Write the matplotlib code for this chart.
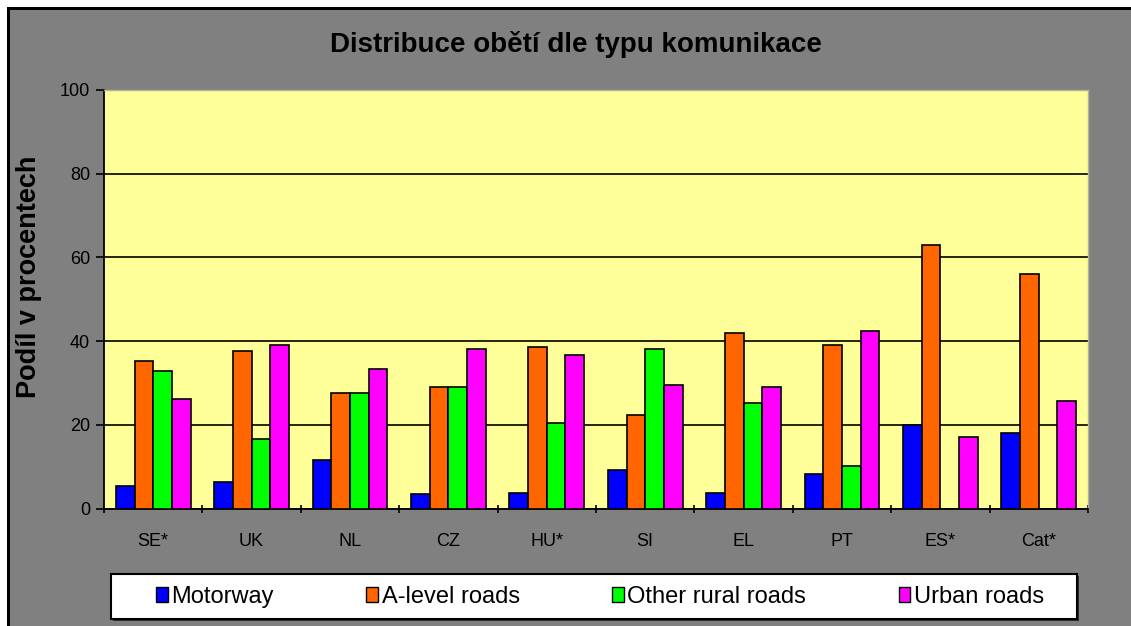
import matplotlib
matplotlib.use("Agg")
import matplotlib.pyplot as plt
import numpy as np
from matplotlib.patches import Rectangle

plt.rcParams['font.family'] = ['Liberation Sans', 'DejaVu Sans']

categories = ["SE*", "UK", "NL", "CZ", "HU*", "SI", "EL", "PT", "ES*", "Cat*"]
motorway = [5.4, 6.3, 11.5, 3.4, 3.8, 9.1, 3.8, 8.2, 20.0, 18.1]
a_level = [35.3, 37.7, 27.6, 29.0, 38.7, 22.4, 41.9, 39.1, 63.0, 56.0]
other_rural = [32.9, 16.7, 27.6, 29.0, 20.4, 38.1, 25.2, 10.1, 0.0, 0.0]
urban = [26.2, 39.1, 33.3, 38.1, 36.7, 29.6, 29.0, 42.4, 17.2, 25.8]
series_names = ["Motorway", "A-level roads", "Other rural roads", "Urban roads"]
series_colors = ["#0000FF", "#FF6600", "#00FF00", "#FF00FF"]
yticks = [0, 20, 40, 60, 80, 100]

W, H = 1131, 626
fig = plt.figure(figsize=(W / 100, H / 100), dpi=100)
fig.patch.set_facecolor("#808080")


def px_rect(x0, y0, x1, y1, **kw):
    """rectangle in pixel coords (y from top)"""
    fig.add_artist(Rectangle((x0 / W, 1 - y1 / H), (x1 - x0) / W, (y1 - y0) / H,
                             transform=fig.transFigure, **kw))


# white strip + black frame lines (top and left)
px_rect(0, 0, W, 7, facecolor="white", edgecolor="none", zorder=0)
px_rect(0, 0, 7, H, facecolor="white", edgecolor="none", zorder=0)
px_rect(7, 7, W, 10, facecolor="black", edgecolor="none", zorder=0)
px_rect(7, 7, 10, H, facecolor="black", edgecolor="none", zorder=0)

ax = fig.add_axes([104 / W, (H - 508.5) / H, 984 / W, 418.5 / H])
ax.set_facecolor("#FFFF99")

n = len(categories)
x = np.arange(n)
bw = 0.19
data = [motorway, a_level, other_rural, urban]
for i, (vals, c, name) in enumerate(zip(data, series_colors, series_names)):
    offs = (i - 1.5) * bw
    ax.bar(x + offs, vals, width=bw, color=c, edgecolor="black", linewidth=1.2,
           label=name, zorder=3)

ax.set_xlim(-0.5, n - 0.5)
ax.set_ylim(0, 100)
ax.set_yticks(yticks)
ax.set_yticklabels([str(v) for v in yticks], fontsize=13)
ax.yaxis.grid(True, color="black", linewidth=1.2, zorder=1)
ax.set_axisbelow(True)

ax.set_xticks(x)
ax.set_xticklabels(categories, fontsize=13)
ax.set_xticks(np.arange(-0.5, n, 1.0), minor=True)
ax.tick_params(axis="x", which="major", length=0, pad=18)
ax.tick_params(axis="x", which="minor", length=6, width=1.2, direction="inout")
ax.tick_params(axis="y", length=6, width=1.2, direction="out", pad=4)

for s in ["top", "right"]:
    ax.spines[s].set_color("#B0B0A0")
    ax.spines[s].set_linewidth(1)
for s in ["left", "bottom"]:
    ax.spines[s].set_color("black")
    ax.spines[s].set_linewidth(1.3)

fig.text(576 / W, 1 - 45 / H, "Distribuce obětí dle typu komunikace",
         ha="center", va="center", fontsize=20, fontweight="bold")
fig.text(29 / W, 1 - 277 / H, "Podíl v procentech", ha="center", va="center",
         rotation=90, fontsize=19.5, fontweight="bold")

# legend frame (with slight dark shadow)
px_rect(113, 576, 1079, 621, facecolor="#303030", edgecolor="none", zorder=4)
px_rect(111, 574, 1077, 619, facecolor="white", edgecolor="black",
        linewidth=1.5, zorder=5)

handles = [Rectangle((0, 0), 1, 1, facecolor=c, edgecolor="black", linewidth=1)
           for c in series_colors]
leg = fig.legend(handles, series_names, loc="center left",
                 bbox_to_anchor=(156 / W, 1 - 597 / H, 888 / W, 0.0),
                 mode="expand", ncol=4, fontsize=17, frameon=False,
                 handlelength=0.5, handleheight=0.6, handletextpad=0.15,
                 borderpad=0.0, borderaxespad=0.0)
leg.set_zorder(6)

fig.savefig("out.png", dpi=100, facecolor=fig.get_facecolor())
